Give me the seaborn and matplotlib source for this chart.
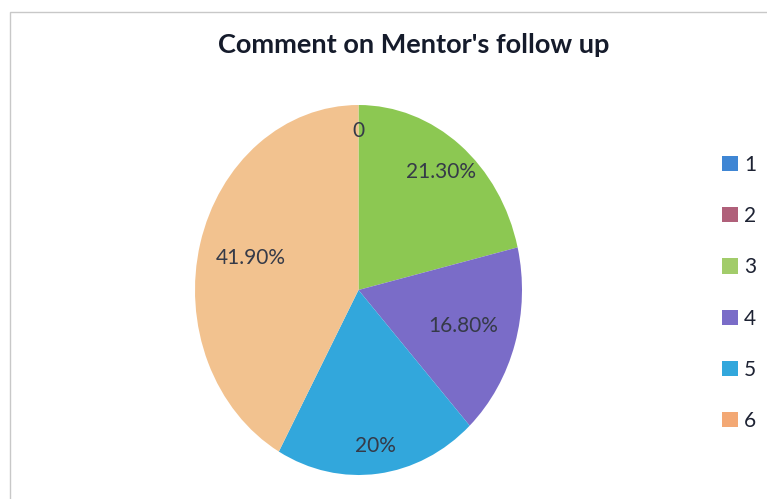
import numpy as np
import matplotlib
matplotlib.use("Agg")
import matplotlib.pyplot as plt
import seaborn as sns
from matplotlib.patches import Rectangle, Patch

categories = ["1", "2", "3", "4", "5", "6"]
values = [0.0, 0.0, 21.3, 16.8, 20.0, 41.9]
value_labels = ["0", "", "21.30%", "16.80%", "20%", "41.90%"]
title = "Comment on Mentor's follow up"

colors = ["#3f86d4", "#b0607a", "#8cc852", "#7a6cc8", "#32a7dc", "#f2c28f"]
legend_colors = ["#3f86d4", "#b0607a", "#a2cc6a", "#7a6cc8", "#32a7dc", "#f3a874"]
label_radii = [0.86, 0.86, 0.81, 0.67, 0.85, 0.68]

sns.set_theme(style="white")
plt.rcParams['font.family'] = ['Lato', 'DejaVu Sans']

fig = plt.figure(figsize=(7.67, 4.99), dpi=100)
fig.patch.set_facecolor("white")
ax = fig.add_axes([195/767, 24/499, 327/767, 370/499])

pal = sns.color_palette(colors)
wedges, _ = ax.pie(values, colors=pal, startangle=90, counterclock=False,
                   radius=1.0, wedgeprops=dict(linewidth=0))
ax.set_aspect('auto')
ax.set_xlim(-1, 1)
ax.set_ylim(-1, 1)

for w, lab, r in zip(wedges, value_labels, label_radii):
    if not lab:
        continue
    ang = np.deg2rad((w.theta1 + w.theta2) / 2)
    ax.text(r * np.cos(ang), r * np.sin(ang), lab, ha="center", va="center",
            fontsize=15, color="#353a48")

fig.text(414/767, 1 - 45/499, title, ha="center", va="center",
         fontsize=19.5, fontweight="bold", color="#151b2b")

handles = [Patch(facecolor=c, edgecolor="none") for c in legend_colors]
fig.legend(handles, categories, loc="center left", bbox_to_anchor=(722/767, 1 - 293/499),
           frameon=False, fontsize=15, handlelength=0.75, handleheight=0.75,
           handletextpad=0.3, labelspacing=1.5, labelcolor="#1d2233",
           borderaxespad=0, borderpad=0)

fig.patches.append(Rectangle((10/767, -0.05), 1.0, 1 - 12/499 + 0.05,
                             transform=fig.transFigure, fill=False,
                             edgecolor="#c8c8c8", linewidth=1.0))

fig.savefig("out.png", dpi=100)
